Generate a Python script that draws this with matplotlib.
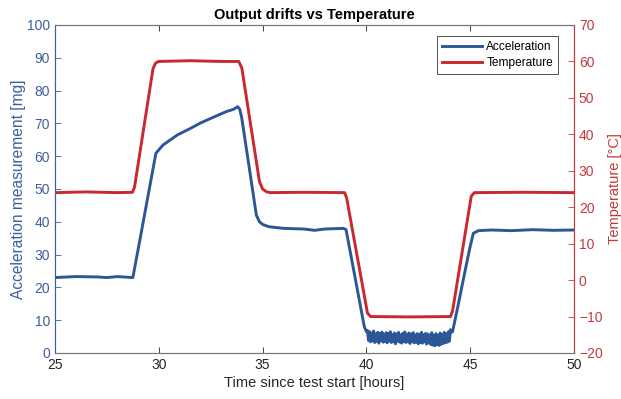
import matplotlib
matplotlib.use("Agg")
import matplotlib.pyplot as plt

plt.rcParams['font.family'] = ['Liberation Sans', 'DejaVu Sans']

# Temperature profile (hours, degC)
temp_t = [25, 26.5, 28.0, 28.73, 28.83, 29.72, 29.85, 30.0, 31.5, 33.0, 33.85, 34.0, 34.85, 35.0,
          35.2, 35.4, 37.0, 38.95, 39.05, 40.05, 40.2, 42.0, 44.05, 44.15, 45.05, 45.2, 47.5, 50]
temp_v = [24, 24.2, 24.0, 24.1, 25.5, 58.0, 59.6, 60, 60.2, 60.0, 60, 58.2, 27, 25,
          24.2, 24, 24.1, 24, 22.5, -9, -10, -10.1, -10, -8.5, 23, 24, 24.1, 24]

# Acceleration measurement (hours, mg)
acc_t = [25, 26, 27, 27.5, 28, 28.5, 28.75, 29.09, 29.86, 30.2, 30.9, 31.5, 32.0, 32.6, 33.25,
         33.6, 33.8, 33.9, 34.0, 34.7, 34.85, 35.0, 35.3, 36.0, 37.0, 37.5, 38.0, 38.9,
         39.02, 39.5, 39.9, 40.0,
         40.05, 40.10, 40.15, 40.20, 40.25, 40.30, 40.35, 40.40, 40.45, 40.50,
         40.55, 40.60, 40.65, 40.70, 40.75, 40.80, 40.85, 40.90, 40.95, 41.00,
         41.05, 41.10, 41.15, 41.20, 41.25, 41.30, 41.35, 41.40, 41.45, 41.50,
         41.55, 41.60, 41.65, 41.70, 41.75, 41.80, 41.85, 41.90, 41.95, 42.00,
         42.05, 42.10, 42.15, 42.20, 42.25, 42.30, 42.35, 42.40, 42.45, 42.50,
         42.55, 42.60, 42.65, 42.70, 42.75, 42.80, 42.85, 42.90, 42.95, 43.00,
         43.05, 43.10, 43.15, 43.20, 43.25, 43.30, 43.35, 43.40, 43.45, 43.50,
         43.55, 43.60, 43.65, 43.70, 43.75, 43.80, 43.85, 43.90, 43.95, 44.00,
         44.05, 44.10,
         44.15, 44.4, 44.8, 45.0, 45.15, 45.4, 46, 47, 48, 49, 50]
acc_v = [23, 23.3, 23.2, 23.0, 23.3, 23.1, 23.0, 34.5, 60.9, 63.4, 66.5, 68.4, 70.1, 71.8, 73.6,
         74.3, 75.1, 74.3, 71.5, 42, 40, 39.2, 38.5, 38, 37.8, 37.4, 37.8, 38,
         37.6, 21.5, 8, 6.5,
         6.9, 3.8, 6.5, 3.4, 6.1, 3.7, 6.7, 3.2, 5.8, 3.6,
         6.3, 3.0, 6.0, 3.9, 6.4, 3.3, 5.7, 3.5, 6.2, 3.1,
         5.9, 3.7, 6.5, 3.2, 5.6, 3.4, 6.1, 2.8, 5.8, 3.6,
         6.3, 3.3, 5.5, 3.0, 6.0, 3.5, 6.4, 3.2, 5.7, 3.4,
         6.1, 2.9, 5.8, 3.5, 6.2, 3.1, 5.5, 3.3, 5.9, 2.8,
         5.7, 3.2, 6.3, 3.0, 5.6, 3.4, 6.0, 2.7, 5.8, 3.1,
         5.5, 2.6, 6.2, 2.4, 5.3, 2.2, 5.9, 2.5, 5.4, 2.3,
         6.1, 2.7, 5.6, 2.9, 6.3, 3.1, 5.8, 3.3, 6.5, 3.6,
         7.1, 6.4,
         6.5, 14, 26.5, 32.5, 36.5, 37.3, 37.5, 37.3, 37.6, 37.4, 37.5]

blue = '#2c5797'
blue_ax = '#3c5f9c'
red = '#c8282e'
red_ax = '#c23a3a'
gray = '#262626'

fig = plt.figure(figsize=(6.21, 3.99), dpi=100)
ax = fig.add_axes([55/621, 46/399, 519/621, 328/399])
ax2 = ax.twinx()

l1, = ax.plot(acc_t, acc_v, color=blue, lw=2.1, label='Acceleration')
l2, = ax2.plot(temp_t, temp_v, color=red, lw=2.1, label='Temperature')

ax.set_xlim(25, 50)
ax.set_ylim(0, 100)
ax2.set_ylim(-20, 70)
ax.set_xticks([25, 30, 35, 40, 45, 50])
ax.set_yticks(range(0, 101, 10))
ax2.set_yticks(range(-20, 71, 10))

ax.tick_params(axis='x', direction='in', top=True, colors=gray, labelsize=10, length=4, width=0.6)
ax.tick_params(axis='y', direction='in', colors=blue_ax, labelsize=10, length=4, width=0.6)
ax2.tick_params(axis='y', direction='in', colors=red_ax, labelsize=10, length=4, width=0.6)
ax2.tick_params(axis='x', top=False)

for a in (ax, ax2):
    a.spines['top'].set_color('#777777')
    a.spines['bottom'].set_color('#777777')
    a.spines['left'].set_color(blue_ax)
    a.spines['right'].set_color(red_ax)
    for s in a.spines.values():
        s.set_linewidth(0.8)

ax.set_xlabel('Time since test start [hours]', fontsize=10.5, color=gray, labelpad=3)
ax.set_ylabel('Acceleration measurement [mg]', fontsize=11.2, color=blue_ax, labelpad=1)
ax2.set_ylabel('Temperature [°C]', fontsize=10.5, color=red_ax, labelpad=4)
ax.set_title('Output drifts vs Temperature', fontsize=10.5, fontweight='bold', color='black', pad=4)

leg = ax.legend([l1, l2], ['Acceleration', 'Temperature'], loc='upper right',
                bbox_to_anchor=(0.969, 0.965), fontsize=8.6, fancybox=False, framealpha=1,
                edgecolor='#333333', handlelength=3.3, handletextpad=0.4, borderpad=0.4,
                labelspacing=0.35, borderaxespad=0)
leg.get_frame().set_linewidth(0.6)
ax.set_zorder(ax2.get_zorder() + 1)
ax.patch.set_visible(False)

fig.savefig('out.png', dpi=100)
